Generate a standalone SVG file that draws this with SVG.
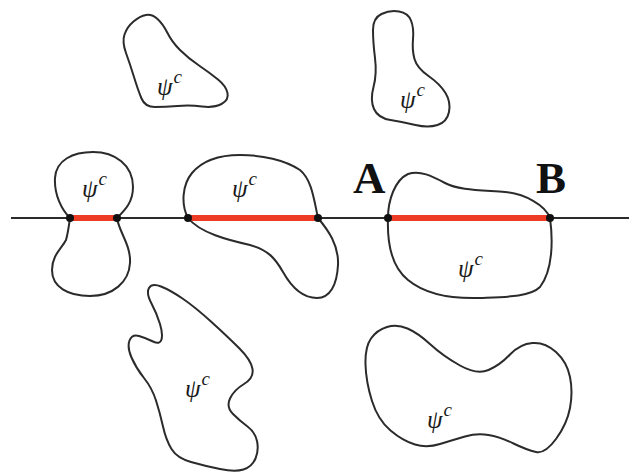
<svg xmlns="http://www.w3.org/2000/svg" width="629" height="473" viewBox="0 0 629 473">
<style>
.blob{fill:none;stroke:#2b2b2b;stroke-width:2;stroke-linejoin:round}
.psi{font-family:"Liberation Serif",serif;font-style:italic;font-size:25px;fill:#1a1a1a}
.sup{font-size:19px}
.lab{font-family:"Liberation Serif",serif;font-weight:bold;font-size:45px;fill:#111}
.axis{stroke:#2b2b2b;stroke-width:2}
.seg{stroke:#ee3b24;stroke-width:6;stroke-linecap:round}
.dot{fill:#111}
</style>
<rect width="629" height="473" fill="#fff"/>
<g id="blob1">
<path class="blob" d="M 146,15 Q 152,14 157.5,19 Q 163,24 167.5,33 Q 172,42 180,50 Q 188,58 199,65.5 Q 210,73 218,79.5 Q 226,86 227.5,93 Q 229,100 221.5,104 Q 214,108 202,106.5 Q 190,105 177.5,106 Q 165,107 155,107 Q 145,107 141.5,98.5 Q 138,90 134,77 Q 130,64 126,53 Q 122,42 124.5,34.5 Q 127,27 133.5,21.5 Q 140,16 146,15 Z"/>
<text class="psi" x="157" y="95">ψ<tspan class="sup" dx="1" dy="-12">c</tspan></text>
</g>
<g id="blob2">
<path class="blob" d="M 381.5,14 Q 390,10 399,11.5 Q 408,13 411,20.5 Q 414,28 413,39 Q 412,50 414.5,59 Q 417,68 428.5,76 Q 440,84 445.5,93 Q 451,102 449,112 Q 447,122 437.5,125 Q 428,128 415.5,125 Q 403,122 390.5,120 Q 378,118 374,109 Q 370,100 373.5,87 Q 377,74 375,58 Q 373,42 373,30 Q 373,18 381.5,14 Z"/>
<text class="psi" x="400" y="108">ψ<tspan class="sup" dx="1" dy="-12">c</tspan></text>
</g>
<g id="blob3">
<path class="blob" d="M 70,218 C 62,210 54,195 55,178 C 56,160 73,152 93,152 C 115,152 133,165 133,187 C 133,203 124,211 117,218 C 119,232 131,245 130,263 C 129,282 113,296 90,296 C 68,296 52,287 52,270 C 52,255 62,248 66,240 C 68,233 69,225 70,218 Z"/>
<text class="psi" x="82" y="197">ψ<tspan class="sup" dx="1" dy="-12">c</tspan></text>
</g>
<g id="blob4">
<path class="blob" d="M 188,218 C 181,205 182,185 192,173 C 203,160 220,155 240,155 C 262,155 285,160 300,170 C 312,180 314,200 318,218 C 328,230 339,245 338,265 C 337,285 330,298 317,298 C 303,298 292,288 283,272 C 275,258 268,250 250,245 C 228,240 200,233 188,218 Z"/>
<text class="psi" x="232" y="197">ψ<tspan class="sup" dx="1" dy="-12">c</tspan></text>
</g>
<g id="blob5">
<path class="blob" d="M 388,218 C 388,200 395,180 408,174 C 420,170 432,176 445,183 C 458,190 480,190 505,192 C 525,194 545,205 550,218 C 553,240 553,270 540,287 C 530,297 505,297 480,298 C 450,299 425,294 408,280 C 393,268 387,245 388,218 Z"/>
<text class="psi" x="458" y="277">ψ<tspan class="sup" dx="1" dy="-12">c</tspan></text>
</g>
<g id="blob6">
<path class="blob" d="M 149,288 Q 152,283 161,286.5 Q 170,290 182.5,298.5 Q 195,307 211.5,322 Q 228,337 239.5,348.5 Q 251,360 252.5,369 Q 254,378 244,384 Q 234,390 230,398.5 Q 226,407 233,414 Q 240,421 247.5,426.5 Q 255,432 257,441 Q 259,450 255.5,458.5 Q 252,467 243.5,469.5 Q 235,472 220,469 Q 205,466 191,462 Q 177,458 171.5,449 Q 166,440 163,426.5 Q 160,413 156,400.5 Q 152,388 144,378 Q 136,368 131.5,357.5 Q 127,347 129.5,340.5 Q 132,334 139,336 Q 146,338 153,341.5 Q 160,345 161.5,339.5 Q 163,334 160,324 Q 157,314 151.5,303.5 Q 146,293 149,288 Z"/>
<text class="psi" x="185" y="397">ψ<tspan class="sup" dx="1" dy="-12">c</tspan></text>
</g>
<g id="blob7">
<path class="blob" d="M 371,338.5 Q 377,330 387,327 Q 397,324 407.5,328.5 Q 418,333 430.5,344.5 Q 443,356 460,365.5 Q 477,375 488.5,370 Q 500,365 510,354.5 Q 520,344 532.5,343 Q 545,342 556,352 Q 567,362 570,377 Q 573,392 570,408 Q 567,424 556,439 Q 545,454 536,452 Q 527,450 513.5,443.5 Q 500,437 488.5,435 Q 477,433 465,436.5 Q 453,440 440,444 Q 427,448 415,444.5 Q 403,441 390.5,430.5 Q 378,420 372,401 Q 366,382 365.5,364.5 Q 365,347 371,338.5 Z"/>
<text class="psi" x="427" y="428">ψ<tspan class="sup" dx="1" dy="-12">c</tspan></text>
</g>
<g id="connectors">
<line class="axis" x1="11" y1="218" x2="629" y2="218"/>
<line class="seg" x1="73" y1="218" x2="114" y2="218"/>
<line class="seg" x1="191" y1="218" x2="315" y2="218"/>
<line class="seg" x1="391" y1="218" x2="547" y2="218"/>
<circle class="dot" cx="70" cy="218" r="4"/>
<circle class="dot" cx="117" cy="218" r="4"/>
<circle class="dot" cx="188" cy="218" r="4"/>
<circle class="dot" cx="318" cy="218" r="4"/>
<circle class="dot" cx="388" cy="218" r="4"/>
<circle class="dot" cx="550" cy="218" r="4"/>
</g>
<g id="labels">
<text class="lab" x="353" y="193">A</text>
<text class="lab" x="536" y="193">B</text>
</g>
</svg>
